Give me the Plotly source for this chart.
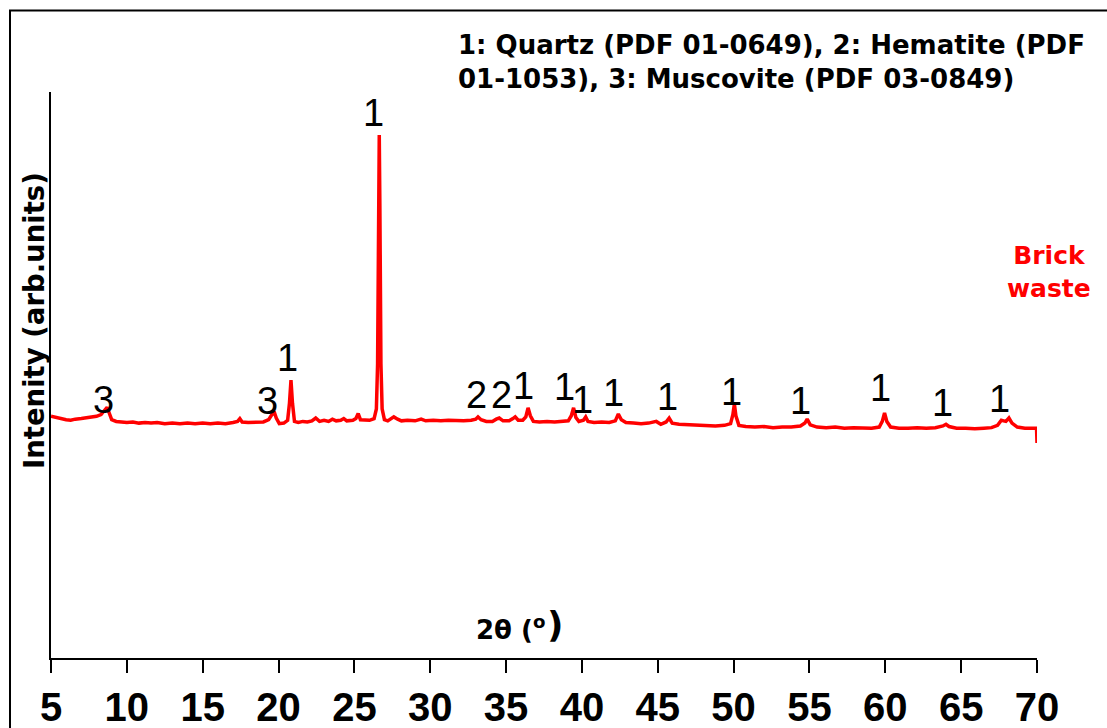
import plotly.graph_objects as go

# ---- data ----
two_theta = [5.00, 5.3, 5.6, 6.0, 6.3, 6.6, 7.0, 7.3, 7.6, 8.0, 8.3, 8.55, 8.70, 8.85, 9.0, 9.3, 9.7,
             10.0, 10.4, 10.8, 11.2, 11.6, 12.0, 12.5, 13.0, 13.5, 14.0, 14.5, 15.0, 15.5, 16.0, 16.5,
             17.0, 17.3, 17.45, 17.6, 18.0, 18.5, 19.0, 19.35, 19.55, 19.7, 19.85, 20.05, 20.35, 20.6,
             20.72, 20.82, 20.92, 21.05, 21.3, 21.6, 21.9, 22.2, 22.45, 22.7, 23.0, 23.3, 23.55, 23.8,
             24.1, 24.3, 24.5, 24.9, 25.1, 25.25, 25.4, 25.7, 26.0, 26.3, 26.45, 26.53, 26.60, 26.64,
             26.68, 26.75, 26.83, 26.98, 27.2, 27.45, 27.6, 27.85, 28.1, 28.5, 29.0, 29.4, 29.7, 30.2,
             30.7, 31.2, 31.7, 32.2, 32.7, 33.0, 33.15, 33.35, 33.7, 34.1, 34.35, 34.55, 34.8, 35.2,
             35.45, 35.6, 35.8, 36.1, 36.3, 36.45, 36.6, 36.8, 37.2, 37.7, 38.2, 38.7, 39.1, 39.3,
             39.45, 39.6, 39.8, 40.1, 40.25, 40.4, 40.8, 41.3, 41.8, 42.2, 42.4, 42.6, 42.9, 43.4,
             43.9, 44.4, 44.9, 45.2, 45.55, 45.75, 45.95, 46.4, 47.0, 47.6, 48.2, 48.8, 49.4, 49.8,
             49.95, 50.05, 50.15, 50.35, 50.8, 51.4, 52.0, 52.6, 53.2, 53.8, 54.4, 54.7, 54.85, 55.05,
             55.5, 56.1, 56.7, 57.3, 57.9, 58.5, 59.1, 59.6, 59.8, 59.95, 60.1, 60.35, 60.9, 61.5,
             62.1, 62.7, 63.3, 63.8, 64.0, 64.2, 64.7, 65.3, 65.9, 66.5, 67.0, 67.4, 67.65, 67.8,
             67.95, 68.15, 68.35, 68.7, 69.2, 69.6, 69.97, 70.0]
intensity = [427, 425, 424, 421, 420, 422, 423, 424, 425, 427, 430, 437, 443, 432, 421, 418, 417,
             416, 417, 415, 416, 415, 416, 414, 415, 414, 415, 414, 415, 414, 415, 414,
             416, 418, 423, 417, 416, 416, 417, 421, 430, 436, 424, 414, 415, 420,
             450, 491, 450, 418, 416, 418, 417, 419, 424, 418, 420, 418, 422, 419,
             420, 423, 419, 420, 423, 432, 421, 420, 420, 423, 440, 520, 800, 924,
             800, 520, 440, 421, 419, 424, 426, 422, 419, 420, 419, 422, 419, 420,
             419, 420, 419, 419, 420, 422, 426, 421, 418, 418, 422, 424, 419, 419,
             423, 426, 420, 420, 426, 442, 428, 418, 417, 418, 417, 418, 419, 428,
             442, 425, 418, 420, 426, 418, 416, 417, 416, 419, 431, 421, 416, 415,
             414, 415, 418, 413, 417, 424, 415, 413, 412, 411, 411, 410, 411, 414,
             430, 449, 428, 411, 409, 408, 409, 407, 408, 408, 410, 415, 422, 412,
             408, 407, 408, 406, 407, 407, 406, 408, 418, 433, 418, 408, 406, 406,
             407, 406, 407, 410, 413, 409, 406, 406, 405, 406, 407, 411, 420, 419,
             418, 424, 415, 408, 406, 406, 406, 380]

peak_labels = ["3", "3", "1", "1", "2", "2", "1", "1", "1", "1", "1", "1", "1", "1", "1", "1"]
label_two_theta = [8.49, 19.24, 20.62, 26.23, 33.02, 34.73, 36.18, 38.88, 40.07, 42.11, 45.67, 49.83,
                   54.44, 59.65, 63.80, 67.56]
label_intensity = [456, 454, 530, 963, 465, 465, 481, 479, 456, 468, 461, 470, 454, 477, 450, 458]

tick_vals = [5, 10, 15, 20, 25, 30, 35, 40, 45, 50, 55, 60, 65, 70]
tick_text = [str(v) for v in tick_vals]

phase_note = "1: Quartz (PDF 01-0649), 2: Hematite (PDF<br>01-1053), 3: Muscovite (PDF 03-0849)"
sample_name = "Brick<br>waste"
y_title = "Intenity (arb.units)"

# ---- layout geometry ----
W, H = 1107, 728
L, R, T, B = 51, 1037, 92, 658


def pxx(p):
    return (p - L) / (R - L)


def pxy(p):
    return (B - p) / (B - T)


BOLD = "DejaVu Sans"
SANS = "Liberation Sans, Arial"

fig = go.Figure()
fig.add_trace(go.Scatter(x=two_theta, y=intensity, mode="lines",
                         line=dict(color="#FF0000", width=3.5), hoverinfo="skip"))

fig.update_layout(
    width=W, height=H,
    margin=dict(l=L, r=W - R, t=T, b=H - B, pad=0, autoexpand=False),
    paper_bgcolor="white", plot_bgcolor="white", showlegend=False,
)
fig.update_xaxes(range=[5, 70], tickvals=tick_vals, ticktext=tick_text, automargin=False,
                 ticks="outside", ticklen=13, tickwidth=2, tickcolor="black",
                 showline=True, linecolor="black", linewidth=2,
                 showgrid=False, zeroline=False,
                 tickfont=dict(family=SANS, size=40, color="black", weight="bold"))
fig.update_yaxes(range=[0, 1000], showline=True, linecolor="black", linewidth=1.5, automargin=False,
                 showticklabels=False, ticks="", showgrid=False, zeroline=False)

ann = []
for t, x, y in zip(peak_labels, label_two_theta, label_intensity):
    ann.append(dict(x=x, y=y, xref="x", yref="y", text=t, showarrow=False,
                    font=dict(family=SANS, size=38, color="black"),
                    xanchor="center", yanchor="middle"))

ann.append(dict(x=pxx(456), y=pxy(28), xref="paper", yref="paper", text=phase_note,
                showarrow=False, align="left", xanchor="left", yanchor="top",
                font=dict(family=BOLD, size=26, color="black", weight="bold")))
ann.append(dict(x=pxx(1049), y=pxy(272), xref="paper", yref="paper", text=sample_name,
                showarrow=False, align="center", xanchor="center", yanchor="middle",
                font=dict(family=BOLD, size=25, color="#FF0000", weight="bold")))
ann.append(dict(x=pxx(34), y=pxy(321), xref="paper", yref="paper", text=y_title,
                showarrow=False, textangle=-90, xanchor="center", yanchor="middle",
                font=dict(family=BOLD, size=27.5, color="black", weight="bold")))
ann.append(dict(x=pxx(547), y=pxy(628), xref="paper", yref="paper",
                text="2θ (<sup>o</sup>",
                showarrow=False, xanchor="right", yanchor="middle",
                font=dict(family=BOLD, size=26, color="black", weight="bold")))
ann.append(dict(x=pxx(545), y=pxy(624), xref="paper", yref="paper",
                text=")",
                showarrow=False, xanchor="left", yanchor="middle",
                font=dict(family=BOLD, size=36, color="black", weight="bold")))
fig.update_layout(annotations=ann)

# outer frame
fig.add_shape(type="rect", xref="paper", yref="paper",
              x0=pxx(10), x1=pxx(1300), y0=pxy(900), y1=pxy(10.5),
              line=dict(color="black", width=2), fillcolor="rgba(0,0,0,0)", layer="above")

fig.write_html("out.html")
